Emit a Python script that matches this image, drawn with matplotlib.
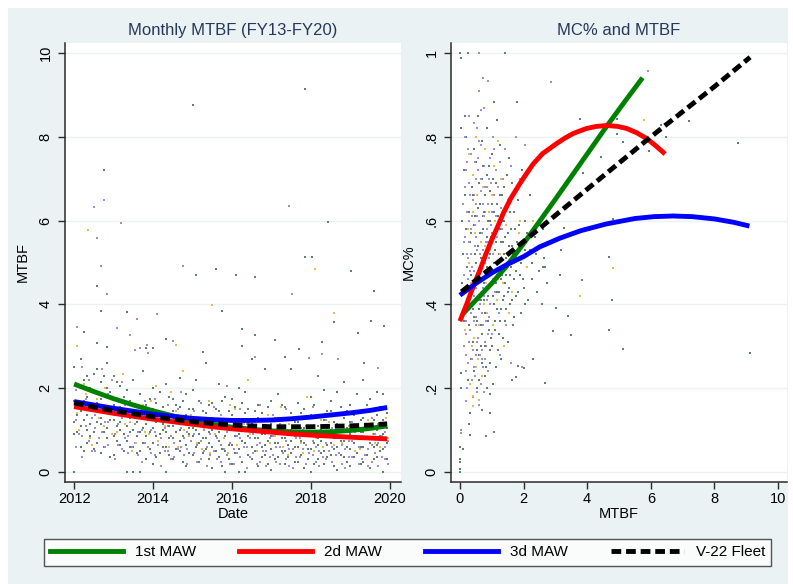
import matplotlib
matplotlib.use("Agg")
import matplotlib.pyplot as plt
from matplotlib.patches import Rectangle
from matplotlib.lines import Line2D

plt.rcParams['font.family'] = ['Liberation Sans', 'DejaVu Sans']

# ----------------------------------------------------------------------------------------------------------------------
# Left panel: monthly MTBF by date (columns every two months)
# ----------------------------------------------------------------------------------------------------------------------
date_cols = [2012.00, 2012.17, 2012.33, 2012.50, 2012.67, 2012.83, 2013.00, 2013.17, 2013.33, 2013.50, 2013.67, 2013.83,
             2014.00, 2014.17, 2014.33, 2014.50, 2014.67, 2014.83, 2015.00, 2015.17, 2015.33, 2015.50, 2015.67, 2015.83,
             2016.00, 2016.17, 2016.33, 2016.50, 2016.67, 2016.83, 2017.00, 2017.17, 2017.33, 2017.50, 2017.67, 2017.83,
             2018.00, 2018.17, 2018.33, 2018.50, 2018.67, 2018.83, 2019.00, 2019.17, 2019.33, 2019.50, 2019.67, 2019.83]

mtbf_grey = [[0.0, 0.9, 1.2, 1.7, 2.5], [0.6, 1.1, 1.45, 2.0, 2.7], [0.7, 1.0, 1.35, 1.8, 2.3], [0.55, 0.95, 1.5, 1.9, 2.35],
             [0.45, 1.15, 1.3, 1.75, 2.15], [0.8, 1.05, 1.4, 2.0, 2.6], [0.4, 0.85, 1.25, 1.6, 2.3], [0.65, 1.0, 1.2, 1.55, 2.05],
             [0.0, 0.75, 1.1, 1.45, 1.95], [0.0, 0.6, 1.0, 1.35, 2.2], [0.0, 0.5, 0.95, 1.3, 1.85], [0.3, 0.85, 1.15, 1.6, 2.95],
             [0.2, 0.7, 1.05, 1.5, 2.0], [0.45, 0.9, 1.25, 1.4, 1.9], [0.0, 0.6, 0.95, 1.3, 2.1], [0.3, 0.8, 1.1, 1.45, 1.75],
             [0.5, 0.75, 1.0, 1.55, 2.25], [0.15, 0.65, 1.2, 1.35, 1.85], [0.4, 0.85, 1.05, 1.5, 1.95], [0.25, 0.7, 0.9, 1.25, 1.7],
             [0.55, 0.8, 1.15, 1.4, 2.6], [0.1, 0.6, 1.0, 1.3, 1.65], [0.35, 0.75, 0.95, 1.45, 2.1], [0.0, 0.5, 0.85, 1.2, 1.8],
             [0.2, 0.65, 1.1, 1.35, 1.75], [0.0, 0.55, 0.9, 1.25, 2.0], [0.0, 0.7, 1.05, 1.4, 1.9], [0.3, 0.6, 0.95, 1.15, 2.7],
             [0.15, 0.8, 1.0, 1.3, 1.6], [0.4, 0.65, 0.9, 1.25, 2.45], [0.05, 0.55, 0.85, 1.15, 1.7], [0.35, 0.7, 0.95, 1.3, 1.85],
             [0.2, 0.5, 0.8, 1.1, 1.55], [0.45, 0.75, 1.0, 1.4, 2.45], [0.25, 0.6, 0.9, 1.2, 1.65], [0.1, 0.7, 0.85, 1.05, 1.5],
             [0.0, 0.55, 0.95, 1.35, 1.8], [0.3, 0.65, 0.8, 1.1, 2.3], [0.2, 0.5, 0.9, 1.25, 1.95], [0.4, 0.7, 1.0, 1.45, 1.7],
             [0.05, 0.6, 0.85, 1.15, 1.9], [0.35, 0.75, 0.95, 1.3, 2.15], [0.15, 0.55, 0.9, 1.2, 1.6], [0.45, 0.8, 1.05, 1.4, 1.85],
             [0.25, 0.6, 0.95, 1.3, 2.2], [0.1, 0.7, 1.1, 1.5, 1.75], [0.35, 0.65, 1.0, 1.35, 1.9], [0.0, 0.55, 0.9, 1.25, 1.85]]

mtbf_grey2 = [[0.95, 1.35, 1.6, 2.05], [0.5, 1.25, 1.7, 2.2], [0.85, 1.15, 1.55, 2.0], [0.7, 1.2, 1.65, 2.45],
              [0.6, 0.95, 1.45, 2.3], [0.35, 1.25, 1.55, 1.9], [0.75, 1.1, 1.45, 2.15], [0.5, 0.9, 1.4, 1.8],
              [0.6, 0.95, 1.3, 1.7], [0.45, 0.85, 1.2, 1.6], [0.7, 1.05, 1.5, 2.4], [0.55, 0.95, 1.35, 1.75],
              [0.35, 0.85, 1.2, 1.65], [0.6, 1.0, 1.15, 1.55], [0.4, 0.8, 1.1, 1.8], [0.55, 0.95, 1.25, 1.6],
              [0.25, 0.85, 1.3, 1.7], [0.45, 0.9, 1.05, 1.5], [0.6, 1.0, 1.3, 2.2], [0.45, 0.8, 1.1, 1.45],
              [0.3, 0.7, 0.95, 1.6], [0.5, 0.85, 1.15, 1.5], [0.15, 0.55, 1.1, 1.7], [0.3, 0.65, 1.0, 1.45],
              [0.45, 0.85, 1.2, 1.55], [0.25, 0.75, 1.05, 1.65], [0.4, 0.85, 1.2, 1.5], [0.5, 0.8, 1.05, 1.45],
              [0.35, 0.6, 0.9, 1.4], [0.2, 0.75, 1.1, 1.55], [0.3, 0.7, 1.0, 1.3], [0.5, 0.8, 1.1, 1.6],
              [0.35, 0.65, 0.95, 1.3], [0.25, 0.6, 0.85, 1.2], [0.4, 0.75, 1.05, 1.4], [0.3, 0.55, 0.95, 1.3],
              [0.2, 0.7, 1.1, 1.6], [0.45, 0.75, 1.0, 1.35], [0.35, 0.65, 1.05, 1.45], [0.15, 0.55, 0.8, 1.2],
              [0.4, 0.75, 1.0, 1.55], [0.25, 0.6, 1.05, 1.45], [0.35, 0.7, 1.05, 1.35], [0.2, 0.6, 0.95, 1.25],
              [0.4, 0.8, 1.15, 1.6], [0.3, 0.6, 0.9, 1.25], [0.5, 0.85, 1.15, 1.55], [0.3, 0.7, 1.05, 1.4]]

mtbf_purple = [[0.6, 1.25, 1.95], [0.35, 0.85, 2.5], [0.75, 1.6, 2.2], [0.5, 1.05, 1.35], [0.95, 1.5, 2.45], [0.65, 1.2, 1.85],
               [0.3, 0.9, 1.4], [0.55, 1.3, 2.15], [0.45, 0.85, 1.65], [0.7, 1.15, 2.9], [0.25, 1.0, 1.45], [0.6, 1.25, 2.85],
               [0.4, 0.95, 1.75], [0.15, 0.8, 1.35], [0.5, 1.1, 1.6], [0.35, 0.7, 1.25], [0.6, 1.05, 1.9], [0.2, 0.55, 0.95],
               [0.45, 0.9, 1.45], [0.3, 0.75, 1.65], [0.15, 0.6, 1.2], [0.5, 1.05, 1.55], [0.25, 0.65, 1.35], [0.4, 0.95, 2.05],
               [0.2, 0.55, 1.0], [0.35, 0.8, 1.5], [0.1, 0.6, 1.15], [0.45, 0.9, 1.25], [0.25, 0.7, 1.6], [0.15, 0.5, 1.05],
               [0.4, 0.85, 1.35], [0.2, 0.6, 1.15], [0.3, 0.75, 1.5], [0.1, 0.55, 0.95], [0.35, 0.8, 1.3], [0.2, 0.65, 1.1],
               [0.4, 0.75, 1.55], [0.15, 0.5, 0.95], [0.3, 0.7, 1.25], [0.25, 0.6, 1.05], [0.45, 0.85, 1.4], [0.1, 0.55, 1.0],
               [0.35, 0.75, 1.2], [0.2, 0.6, 1.45], [0.4, 0.8, 1.1], [0.25, 0.65, 1.3], [0.15, 0.7, 1.15], [0.3, 0.6, 0.95]]

mtbf_purple2 = [[0.9, 1.6], [1.1, 1.75], [0.5, 1.3], [0.8, 1.9], [0.6, 1.2], [0.9, 2.2], [0.65, 1.15], [0.8, 1.6],
                [0.6, 1.35], [0.4, 0.95], [0.7, 1.7], [0.45, 1.0], [0.65, 1.25], [0.5, 1.05], [0.3, 0.85], [0.55, 1.5],
                [0.4, 0.8], [0.75, 1.3], [0.25, 0.65], [0.5, 1.0], [0.4, 0.9], [0.3, 0.8], [0.55, 1.05], [0.2, 0.7],
                [0.45, 0.85], [0.6, 1.2], [0.35, 0.8], [0.2, 0.65], [0.5, 0.95], [0.35, 0.8], [0.25, 0.6], [0.45, 0.95],
                [0.15, 0.55], [0.35, 0.8], [0.55, 1.0], [0.45, 0.9], [0.25, 0.6], [0.35, 0.85], [0.5, 0.95], [0.4, 0.8],
                [0.2, 0.65], [0.35, 0.75], [0.5, 0.95], [0.3, 0.85], [0.15, 0.55], [0.45, 0.9], [0.35, 0.85], [0.2, 0.75]]

mtbf_gold = [1.4, 2.1, 0.8, 1.75, 1.1, 1.5, 0.95, 2.35, 1.2, 0.7, 1.6, 0.9, 2.05, 1.3, 0.6, 1.45, 2.4, 0.85, 1.15, 0.55,
             1.7, 0.9, 1.25, 0.45, 1.5, 0.75, 2.2, 1.05, 0.6, 1.35, 0.85, 1.55, 0.4, 1.1, 0.7, 1.8, 0.5, 1.25, 0.95, 0.65,
             1.4, 0.8, 1.15, 0.55, 1.0, 0.9, 0.6, 1.3]
mtbf_gold2 = [1.0, 1.85, 0.65, 1.3, 2.0, 0.9, 1.55, 1.15, 0.5, 1.35, 0.95, 1.7, 0.75, 1.1, 1.9, 0.6, 1.0, 1.35, 0.7, 1.05,
              0.45, 1.2, 0.8, 1.6, 0.65, 1.15, 0.9, 0.5, 1.25, 0.7, 1.0, 0.6, 1.15, 0.85, 0.45, 1.05, 0.8, 0.6, 1.2, 0.95,
              0.7, 1.1, 0.5, 0.85, 1.25, 0.7, 1.05, 0.8]

# high months read one by one
hi_grey = [(2012.77, 7.21), (2015.00, 8.77), (2017.85, 9.14), (2018.44, 5.96), (2017.85, 5.14), (2018.02, 5.14),
           (2015.59, 4.85), (2015.09, 4.70), (2016.09, 4.69), (2016.59, 4.66), (2019.01, 4.79), (2012.59, 4.44),
           (2019.60, 4.32), (2012.68, 3.85), (2013.34, 3.82), (2015.75, 3.85), (2018.59, 3.57), (2019.52, 3.60),
           (2019.86, 3.48), (2012.25, 3.35), (2012.58, 3.07), (2012.83, 2.98), (2014.00, 2.95), (2014.34, 3.17),
           (2015.27, 2.87), (2016.26, 3.41), (2016.59, 3.27), (2017.10, 3.15), (2017.34, 2.75), (2017.69, 2.93),
           (2018.28, 3.11), (2019.18, 3.31), (2019.35, 2.60), (2016.26, 3.00)]
hi_purple = [(2012.51, 6.33), (2012.77, 6.48), (2013.18, 5.95), (2012.58, 5.59), (2017.44, 6.36), (2012.68, 4.92),
             (2014.76, 4.92), (2012.83, 4.24), (2017.51, 4.25), (2014.09, 3.76), (2013.59, 3.64), (2012.08, 3.47),
             (2013.08, 3.44), (2013.42, 3.26), (2013.67, 2.97), (2013.85, 3.02), (2014.50, 3.12), (2016.59, 2.75),
             (2017.94, 2.73), (2018.28, 2.81), (2018.69, 2.70), (2019.69, 2.48)]
hi_gold = [(2012.34, 5.78), (2018.10, 4.85), (2015.50, 3.99), (2018.59, 3.80), (2012.08, 3.00), (2014.58, 3.02)]

# fitted curves (left), read every half year
fit_years = [2012.0, 2012.5, 2013.0, 2013.5, 2014.0, 2014.5, 2015.0, 2015.5, 2016.0, 2016.5, 2017.0, 2017.5, 2018.0,
             2018.5, 2019.0, 2019.5, 2019.93]
fit_1st = [2.10, 1.92, 1.75, 1.60, 1.46, 1.34, 1.23, 1.14, 1.07, 1.02, 0.98, 0.96, 0.95, 0.96, 0.99, 1.04, 1.10]
fit_2d = [1.56, 1.48, 1.40, 1.33, 1.26, 1.20, 1.14, 1.08, 1.03, 0.99, 0.95, 0.91, 0.88, 0.855, 0.83, 0.81, 0.79]
fit_3d = [1.68, 1.60, 1.52, 1.45, 1.38, 1.33, 1.28, 1.25, 1.23, 1.23, 1.24, 1.27, 1.31, 1.36, 1.41, 1.47, 1.54]
fit_fleet = [1.65, 1.55, 1.46, 1.39, 1.32, 1.26, 1.20, 1.16, 1.12, 1.10, 1.08, 1.08, 1.08, 1.09, 1.10, 1.12, 1.15]

# ----------------------------------------------------------------------------------------------------------------------
# Right panel: MC% against MTBF
# ----------------------------------------------------------------------------------------------------------------------
mc_grey = [(0.12, 0.72), (0.15, 0.66), (0.18, 0.58), (0.22, 0.49), (0.25, 0.41), (0.28, 0.35), (0.30, 0.62), (0.33, 0.55),
           (0.35, 0.47), (0.38, 0.68), (0.40, 0.39), (0.42, 0.31), (0.45, 0.59), (0.47, 0.52), (0.50, 0.44), (0.52, 0.74),
           (0.55, 0.36), (0.57, 0.63), (0.60, 0.28), (0.62, 0.57), (0.64, 0.48), (0.66, 0.41), (0.68, 0.70), (0.70, 0.33),
           (0.72, 0.61), (0.74, 0.53), (0.76, 0.45), (0.78, 0.38), (0.80, 0.66), (0.82, 0.25), (0.84, 0.56), (0.86, 0.49),
           (0.88, 0.42), (0.90, 0.34), (0.92, 0.73), (0.94, 0.60), (0.96, 0.52), (0.98, 0.45), (1.00, 0.30), (1.02, 0.64),
           (1.04, 0.57), (1.06, 0.40), (1.08, 0.50), (1.10, 0.36), (1.12, 0.69), (1.14, 0.55), (1.16, 0.47), (1.18, 0.43),
           (1.20, 0.61), (1.22, 0.33), (1.24, 0.52), (1.26, 0.58), (1.28, 0.46), (1.30, 0.39), (1.32, 0.66), (1.34, 0.49),
           (1.36, 0.55), (1.38, 0.42), (1.40, 0.60), (1.42, 0.36), (1.44, 0.51), (1.46, 0.47), (1.48, 0.71), (1.50, 0.57),
           (1.53, 0.44), (1.56, 0.40), (1.58, 0.62), (1.60, 0.49), (1.63, 0.54), (1.66, 0.35), (1.70, 0.46), (1.73, 0.58),
           (1.76, 0.42), (1.80, 0.51), (1.84, 0.65), (1.88, 0.47), (1.92, 0.38), (1.96, 0.55), (2.00, 0.44), (2.05, 0.60),
           (2.10, 0.49), (2.15, 0.41), (2.20, 0.53), (2.28, 0.46), (2.35, 0.56), (2.42, 0.43), (2.50, 0.48), (2.58, 0.40),
           (2.65, 0.51), (2.75, 0.45), (0.20, 0.80), (0.45, 0.77), (0.70, 0.79), (1.00, 0.76), (1.25, 0.78), (1.55, 0.75),
           (0.25, 0.22), (0.55, 0.20), (0.78, 0.23), (1.05, 0.21), (1.30, 0.27), (0.35, 0.27), (0.65, 0.30), (0.95, 0.26),
           (1.20, 0.29), (1.50, 0.31), (0.10, 0.52), (0.08, 0.45), (0.06, 0.60), (0.14, 0.36), (0.58, 0.85), (0.85, 0.82),
           (1.15, 0.84), (1.65, 0.69), (1.95, 0.72), (2.20, 0.66), (2.60, 0.58),
           # outlying months
           (0.00, 1.00), (0.03, 0.988), (0.24, 0.999), (1.42, 1.00), (1.06, 0.882), (1.79, 0.884), (0.16, 0.85),
           (0.03, 0.82), (3.77, 0.843), (4.95, 0.842), (7.19, 0.838), (6.32, 0.828), (4.93, 0.807), (6.48, 0.80),
           (5.14, 0.788), (5.93, 0.765), (8.75, 0.786), (4.44, 0.751), (3.86, 0.713), (4.82, 0.605), (4.68, 0.512),
           (3.19, 0.53), (3.28, 0.582), (2.62, 0.49), (3.14, 0.469), (3.84, 0.458), (2.67, 0.49), (4.79, 0.41),
           (3.41, 0.373), (3.49, 0.327), (4.68, 0.34), (5.14, 0.293), (9.11, 0.284), (2.92, 0.337), (3.02, 0.392),
           (2.67, 0.212), (2.29, 0.27), (2.00, 0.249), (1.83, 0.253), (1.76, 0.227), (1.64, 0.219), (0.94, 0.185),
           (0.93, 0.141), (0.82, 0.087), (1.06, 0.095), (0.31, 0.14), (0.30, 0.115), (0.31, 0.088), (0.03, 0.236),
           (0.03, 0.20), (0.00, 0.059), (0.10, 0.054), (0.00, 0.03), (0.00, 0.024), (0.00, 0.007), (0.00, 0.0),
           (0.68, 0.148)]

mc_grey2 = [(0.32, 0.43), (0.36, 0.57), (0.41, 0.66), (0.44, 0.37), (0.48, 0.61), (0.51, 0.50), (0.53, 0.29), (0.56, 0.54),
            (0.59, 0.69), (0.61, 0.39), (0.63, 0.64), (0.65, 0.51), (0.67, 0.35), (0.69, 0.46), (0.71, 0.73), (0.73, 0.58),
            (0.75, 0.41), (0.77, 0.62), (0.79, 0.30), (0.81, 0.51), (0.83, 0.44), (0.85, 0.71), (0.87, 0.36), (0.89, 0.60),
            (0.91, 0.54), (0.93, 0.40), (0.95, 0.67), (0.97, 0.32), (0.99, 0.56), (1.01, 0.48), (1.03, 0.42), (1.05, 0.70),
            (1.07, 0.62), (1.09, 0.34), (1.11, 0.53), (1.13, 0.45), (1.15, 0.64), (1.17, 0.39), (1.19, 0.58), (1.21, 0.50),
            (1.23, 0.43), (1.25, 0.66), (1.27, 0.36), (1.29, 0.55), (1.31, 0.47), (1.33, 0.60), (1.35, 0.41), (1.37, 0.52),
            (1.39, 0.68), (1.41, 0.45), (1.43, 0.56), (1.45, 0.39), (1.47, 0.63), (1.49, 0.50), (1.52, 0.43), (1.55, 0.54),
            (1.58, 0.47), (1.61, 0.58), (1.64, 0.41), (1.67, 0.52), (1.71, 0.62), (1.75, 0.48), (1.79, 0.55), (1.83, 0.43),
            (1.87, 0.59), (1.91, 0.50), (1.97, 0.46), (2.03, 0.53), (2.12, 0.57), (2.25, 0.50), (0.60, 0.22), (0.85, 0.20),
            (1.12, 0.25), (0.45, 0.24), (0.70, 0.26), (0.95, 0.29), (1.35, 0.32), (1.70, 0.37), (2.05, 0.40), (2.40, 0.52)]

mc_purple = [(0.10, 0.64), (0.12, 0.47), (0.14, 0.30), (0.16, 0.56), (0.18, 0.72), (0.20, 0.40), (0.22, 0.62), (0.24, 0.26),
             (0.26, 0.51), (0.28, 0.69), (0.30, 0.44), (0.32, 0.34), (0.34, 0.58), (0.36, 0.76), (0.38, 0.49), (0.40, 0.29),
             (0.42, 0.65), (0.44, 0.42), (0.46, 0.54), (0.48, 0.23), (0.50, 0.70), (0.52, 0.37), (0.54, 0.61), (0.56, 0.46),
             (0.58, 0.32), (0.60, 0.79), (0.62, 0.52), (0.64, 0.40), (0.66, 0.67), (0.68, 0.27), (0.70, 0.57), (0.72, 0.44),
             (0.74, 0.35), (0.76, 0.73), (0.78, 0.50), (0.80, 0.62), (0.82, 0.30), (0.84, 0.41), (0.86, 0.68), (0.88, 0.55),
             (0.90, 0.37), (0.92, 0.47), (0.95, 0.75), (0.98, 0.59), (1.00, 0.33), (1.03, 0.52), (1.06, 0.66), (1.10, 0.43),
             (1.14, 0.72), (1.18, 0.56), (1.22, 0.38), (1.28, 0.63), (1.35, 0.70), (1.42, 0.77), (1.50, 0.65), (1.60, 0.73),
             (1.75, 0.80), (1.90, 0.70), (2.05, 0.78), (0.15, 0.80), (0.30, 0.85), (0.55, 0.82), (0.75, 0.87), (1.05, 0.80),
             (0.40, 0.18), (0.65, 0.21), (0.88, 0.24), (0.20, 0.33), (0.35, 0.38), (0.50, 0.28), (0.62, 0.35), (0.78, 0.31),
             (0.28, 0.60), (0.45, 0.66), (0.58, 0.72), (0.72, 0.64), (0.90, 0.70), (0.33, 0.48), (0.52, 0.56), (0.68, 0.49),
             (0.85, 0.58), (1.00, 0.62), (0.20, 0.24), (0.45, 0.25), (0.60, 0.16), (0.75, 0.19), (1.25, 0.28), (1.45, 0.35),
             (1.60, 0.26), (1.95, 0.25),
             (0.61, 1.00), (0.71, 0.94), (0.87, 0.934), (0.60, 0.909), (2.86, 0.93), (5.92, 0.958), (0.66, 0.865),
             (0.43, 0.832), (0.03, 0.10), (0.03, 0.092), (0.18, 0.169)]

mc_purple2 = [(0.13, 0.55), (0.15, 0.43), (0.17, 0.68), (0.19, 0.36), (0.21, 0.52), (0.23, 0.74), (0.25, 0.46), (0.27, 0.31),
              (0.29, 0.55), (0.31, 0.66), (0.33, 0.40), (0.35, 0.52), (0.37, 0.27), (0.39, 0.61), (0.41, 0.71), (0.43, 0.48),
              (0.45, 0.36), (0.47, 0.59), (0.49, 0.44), (0.51, 0.64), (0.53, 0.31), (0.55, 0.53), (0.57, 0.75), (0.59, 0.41),
              (0.61, 0.60), (0.63, 0.28), (0.65, 0.46), (0.67, 0.70), (0.69, 0.38), (0.71, 0.53), (0.73, 0.25), (0.75, 0.61),
              (0.77, 0.42), (0.79, 0.68), (0.81, 0.36), (0.83, 0.55), (0.85, 0.47), (0.87, 0.33), (0.89, 0.64), (0.91, 0.51),
              (0.94, 0.40), (0.97, 0.69), (1.00, 0.57), (1.04, 0.46), (1.08, 0.77), (1.12, 0.61), (1.16, 0.50), (1.20, 0.68),
              (1.26, 0.74), (1.32, 0.58), (0.22, 0.20), (0.38, 0.22), (0.55, 0.19), (0.70, 0.29), (0.18, 0.28), (0.50, 0.35),
              (0.80, 0.27), (0.25, 0.77), (0.48, 0.74), (0.65, 0.78)]

mc_gold = [(0.15, 0.34), (0.25, 0.58), (0.35, 0.45), (0.45, 0.32), (0.55, 0.66), (0.62, 0.42), (0.70, 0.23), (0.78, 0.54),
           (0.85, 0.38), (0.92, 0.62), (1.00, 0.48), (1.08, 0.73), (1.15, 0.41), (1.25, 0.52), (1.35, 0.45), (1.45, 0.59),
           (1.55, 0.38), (1.70, 0.50), (1.85, 0.57), (2.10, 0.49), (0.30, 0.76), (0.50, 0.80), (0.80, 0.77), (1.20, 0.79),
           (0.40, 0.62), (0.65, 0.55), (1.05, 0.35), (1.40, 0.30), (0.22, 0.44), (0.58, 0.27),
           (0.28, 0.50), (0.38, 0.30), (0.48, 0.57), (0.60, 0.35), (0.72, 0.68), (0.82, 0.45), (0.95, 0.53), (1.10, 0.60),
           (1.20, 0.46), (1.30, 0.70), (1.50, 0.49), (1.65, 0.43), (1.90, 0.60), (0.33, 0.21), (0.52, 0.25), (0.75, 0.40),
           (1.00, 0.66), (1.60, 0.65), (2.30, 0.60), (0.42, 0.71),
           (5.77, 0.84), (4.82, 0.486), (3.78, 0.421), (0.60, 0.172), (0.42, 0.181), (0.41, 0.158)]

# fitted curves (right)
mc_1st_x = [0.10, 0.50, 1.00, 1.42, 2.00, 2.50, 3.00, 3.50, 4.00, 4.61, 5.20, 5.74]
mc_1st_y = [0.378, 0.410, 0.450, 0.487, 0.545, 0.598, 0.651, 0.705, 0.759, 0.825, 0.886, 0.941]
mc_2d_x = [0.00, 0.21, 0.42, 0.63, 0.80, 1.00, 1.20, 1.36, 1.60, 1.89, 2.10, 2.30, 2.60, 3.04, 3.30, 3.56, 3.98, 4.30,
           4.61, 4.95, 5.24, 5.55, 5.87, 6.15, 6.45]
mc_2d_y = [0.36, 0.40, 0.443, 0.482, 0.517, 0.554, 0.588, 0.617, 0.653, 0.689, 0.713, 0.735, 0.76, 0.784, 0.797, 0.808,
           0.82, 0.825, 0.827, 0.825, 0.82, 0.81, 0.796, 0.779, 0.759]
mc_3d_x = [0.00, 0.50, 1.00, 1.50, 2.00, 2.50, 3.14, 3.80, 4.60, 5.50, 6.10, 6.70, 7.30, 8.00, 8.60, 9.10]
mc_3d_y = [0.422, 0.45, 0.475, 0.496, 0.514, 0.537, 0.558, 0.576, 0.592, 0.605, 0.6095, 0.611, 0.6095, 0.604, 0.596,
           0.587]
mc_fleet_x = [0.05, 2.0, 4.0, 6.0, 8.0, 9.12]
mc_fleet_y = [0.43, 0.55, 0.675, 0.80, 0.92, 0.99]

# ======================================================================================================================
W, H = 793, 584
BG = '#eaf2f3'
C_GREY, C_PURPLE, C_GOLD = '#5f8072', '#9a8ee3', '#e6bd4c'
C_AXIS = '#2b2b2b'
C_TITLE = '#26375a'
LW = 3.5
FLEET_DASH = (0, (2.0, 1.0))

fig = plt.figure(figsize=(W / 100, H / 100), dpi=100, facecolor='white')
fig.patches.append(Rectangle((8 / W, 0), (788 - 8) / W, (H - 8) / H, transform=fig.transFigure,
                             facecolor=BG, edgecolor='none', zorder=-10))


def add_panel(x0, x1):
    return fig.add_axes([x0 / W, 1 - 482 / H, (x1 - x0) / W, (482 - 43) / H])


def style_axes(ax, yticks, ylabels):
    for side in ['top', 'right']:
        ax.spines[side].set_visible(False)
    for side in ['left', 'bottom']:
        ax.spines[side].set_color(C_AXIS)
        ax.spines[side].set_linewidth(1.1)
    ax.set_yticks(yticks)
    ax.set_yticklabels(ylabels)
    ax.tick_params(axis='both', direction='out', length=5, width=1, color=C_AXIS, labelsize=10.5, labelcolor='black')
    ax.tick_params(axis='x', pad=2)
    ax.tick_params(axis='y', pad=4)
    for lab in ax.get_yticklabels():
        lab.set_rotation(90)
        lab.set_va('center')
    for yv in yticks:
        ax.axhline(yv, color=BG, lw=1.0, zorder=0)


def scatter_pts(ax, xs, ys, color):
    ax.scatter(xs, ys, s=3.5, marker='s', color=color, linewidths=0, zorder=2)


def scatter_cols(ax, cols, offset, color):
    for xc, ys in zip(date_cols, cols):
        scatter_pts(ax, [xc + offset] * len(ys), ys, color)


# ---------------- left panel
ax1 = add_panel(65, 401)
scatter_cols(ax1, mtbf_grey, 0.0, C_GREY)
scatter_cols(ax1, mtbf_purple, 0.04, C_PURPLE)
scatter_pts(ax1, [xc + 0.08 for xc in date_cols], mtbf_gold, C_GOLD)
scatter_cols(ax1, mtbf_grey2, 0.085, C_GREY)
scatter_cols(ax1, mtbf_purple2, 0.125, C_PURPLE)
scatter_pts(ax1, [xc + 0.125 for xc in date_cols], mtbf_gold2, C_GOLD)
scatter_pts(ax1, [p[0] for p in hi_grey], [p[1] for p in hi_grey], C_GREY)
scatter_pts(ax1, [p[0] for p in hi_purple], [p[1] for p in hi_purple], C_PURPLE)
scatter_pts(ax1, [p[0] for p in hi_gold], [p[1] for p in hi_gold], C_GOLD)

ax1.plot(fit_years, fit_1st, color='#008000', lw=LW, solid_capstyle='butt', zorder=4)
ax1.plot(fit_years, fit_2d, color='#ff0000', lw=LW, solid_capstyle='butt', zorder=4)
ax1.plot(fit_years, fit_3d, color='#0000ff', lw=LW, solid_capstyle='butt', zorder=4)
ax1.plot(fit_years, fit_fleet, color='black', lw=LW, linestyle=FLEET_DASH, dash_capstyle='butt', zorder=5)

ax1.set_xlim(2011.77, 2020.28)
ax1.set_ylim(-0.239, 10.239)
ax1.set_xticks([2012, 2014, 2016, 2018, 2020])
style_axes(ax1, [0, 2, 4, 6, 8, 10], ['0', '2', '4', '6', '8', '10'])
ax1.set_xlabel('Date', fontsize=10.5, labelpad=1)
ax1.set_ylabel('MTBF', fontsize=10.5, labelpad=6)
ax1.set_title('Monthly MTBF (FY13-FY20)', fontsize=12, color=C_TITLE, pad=6)

# ---------------- right panel
ax2 = add_panel(451, 787)
for pts, col in [(mc_grey, C_GREY), (mc_purple, C_PURPLE), (mc_grey2, C_GREY), (mc_purple2, C_PURPLE),
                 (mc_gold, C_GOLD)]:
    scatter_pts(ax2, [p[0] for p in pts], [p[1] for p in pts], col)

ax2.plot(mc_1st_x, mc_1st_y, color='#008000', lw=LW, solid_capstyle='butt', zorder=4)
ax2.plot(mc_2d_x, mc_2d_y, color='#ff0000', lw=LW, solid_capstyle='butt', zorder=4)
ax2.plot(mc_3d_x, mc_3d_y, color='#0000ff', lw=LW, solid_capstyle='butt', zorder=4)
ax2.plot(mc_fleet_x, mc_fleet_y, color='black', lw=LW, linestyle=FLEET_DASH, dash_capstyle='butt', zorder=5)

ax2.set_xlim(-0.28, 10.28)
ax2.set_ylim(-0.024, 1.024)
ax2.set_xticks([0, 2, 4, 6, 8, 10])
style_axes(ax2, [0, 0.2, 0.4, 0.6, 0.8, 1.0], ['0', '.2', '.4', '.6', '.8', '1'])
ax2.set_xlabel('MTBF', fontsize=10.5, labelpad=1)
ax2.set_ylabel('MC%', fontsize=10.5, labelpad=6)
ax2.set_title('MC% and MTBF', fontsize=12, color=C_TITLE, pad=6)

# ---------------- legend
handles = [Line2D([], [], color='#008000', lw=LW),
           Line2D([], [], color='#ff0000', lw=LW),
           Line2D([], [], color='#0000ff', lw=LW),
           Line2D([], [], color='black', lw=LW, linestyle=FLEET_DASH, dash_capstyle='butt')]
labels = ['1st MAW', '2d MAW', '3d MAW', 'V-22 Fleet']
leg = fig.legend(handles, labels, loc='center', ncol=4, mode='expand', fontsize=11,
                 bbox_to_anchor=(44 / W, 1 - 571 / H, (771 - 44) / W, (571 - 534) / H),
                 handlelength=4.8, handletextpad=0.75, borderaxespad=0, frameon=True, fancybox=False)
leg.get_frame().set_edgecolor(C_AXIS)
leg.get_frame().set_linewidth(1.0)

fig.savefig('out.png', dpi=100, facecolor=fig.get_facecolor())
